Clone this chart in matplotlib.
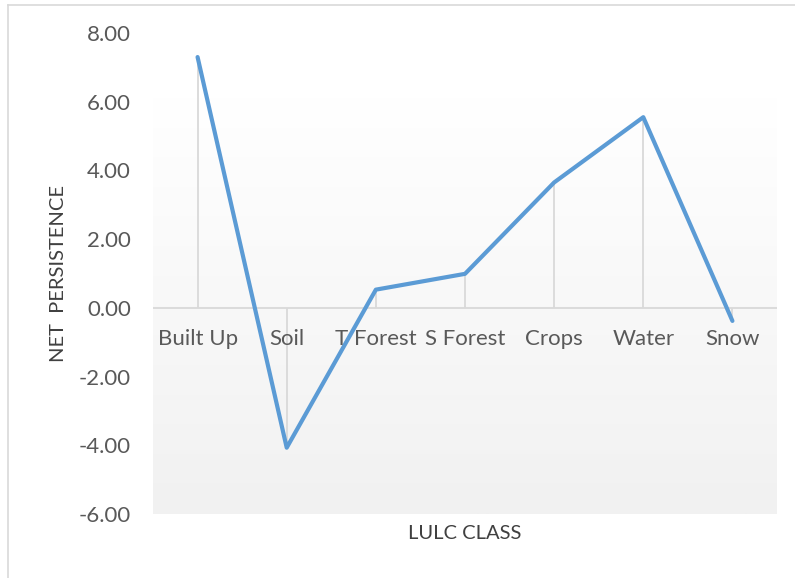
import numpy as np
import matplotlib.pyplot as plt
from matplotlib.lines import Line2D
from matplotlib.colors import LinearSegmentedColormap

plt.rcParams['font.family'] = ['Lato', 'DejaVu Sans']

categories = ['Built Up', 'Soil', 'T Forest', 'S Forest', 'Crops', 'Water', 'Snow']
net_persistence = [7.30, -4.07, 0.53, 0.99, 3.65, 5.55, -0.38]
y_ticks = [-6, -4, -2, 0, 2, 4, 6, 8]

text_grey = '#595959'
line_blue = '#5B9BD5'
grid_grey = '#d9d9d9'

fig = plt.figure(figsize=(7.95, 5.78), dpi=100)
ax = fig.add_axes([153 / 795, 64 / 578, 624 / 795, 481 / 578])

x = np.arange(len(categories))
ax.set_xlim(-0.5, len(categories) - 0.5)
ax.set_ylim(-6, 8)

# shaded plot area (white at top to light grey at bottom)
grad = np.linspace(0, 1, 256).reshape(-1, 1)
ax.imshow(grad, extent=(-0.5, len(categories) - 0.5, -6, 6.13), aspect='auto',
          cmap=LinearSegmentedColormap.from_list('g', ['#f1f1f1', '#ffffff']),
          origin='lower', zorder=0)

# zero line and drop lines
ax.axhline(0, color=grid_grey, lw=1.3, zorder=1)
ax.vlines(x, 0, net_persistence, color=grid_grey, lw=1.3, zorder=1)

ax.plot(x, net_persistence, color=line_blue, lw=3, solid_capstyle='round',
        solid_joinstyle='round', zorder=3)

for xi, name in zip(x, categories):
    ax.text(xi, -0.9, name, ha='center', va='center', fontsize=16, color=text_grey)

ax.set_xticks([])
ax.set_yticks(y_ticks)
ax.set_yticklabels([f'{v:.2f}' for v in y_ticks], fontsize=16, color=text_grey)
ax.tick_params(axis='y', length=0, pad=16)
for s in ax.spines.values():
    s.set_visible(False)

ax.set_ylabel('NET  PERSISTENCE', fontsize=14.5, color='#404040', labelpad=8)
ax.set_xlabel('LULC CLASS', fontsize=14.5, color='#404040', labelpad=8)

# outer border lines of the chart frame
fig.add_artist(Line2D([8 / 795, 8 / 795], [0, 1 - 5 / 578], color=grid_grey, lw=1.2))
fig.add_artist(Line2D([8 / 795, 1], [1 - 5 / 578, 1 - 5 / 578], color=grid_grey, lw=1.2))

fig.savefig('out.png', dpi=100)
